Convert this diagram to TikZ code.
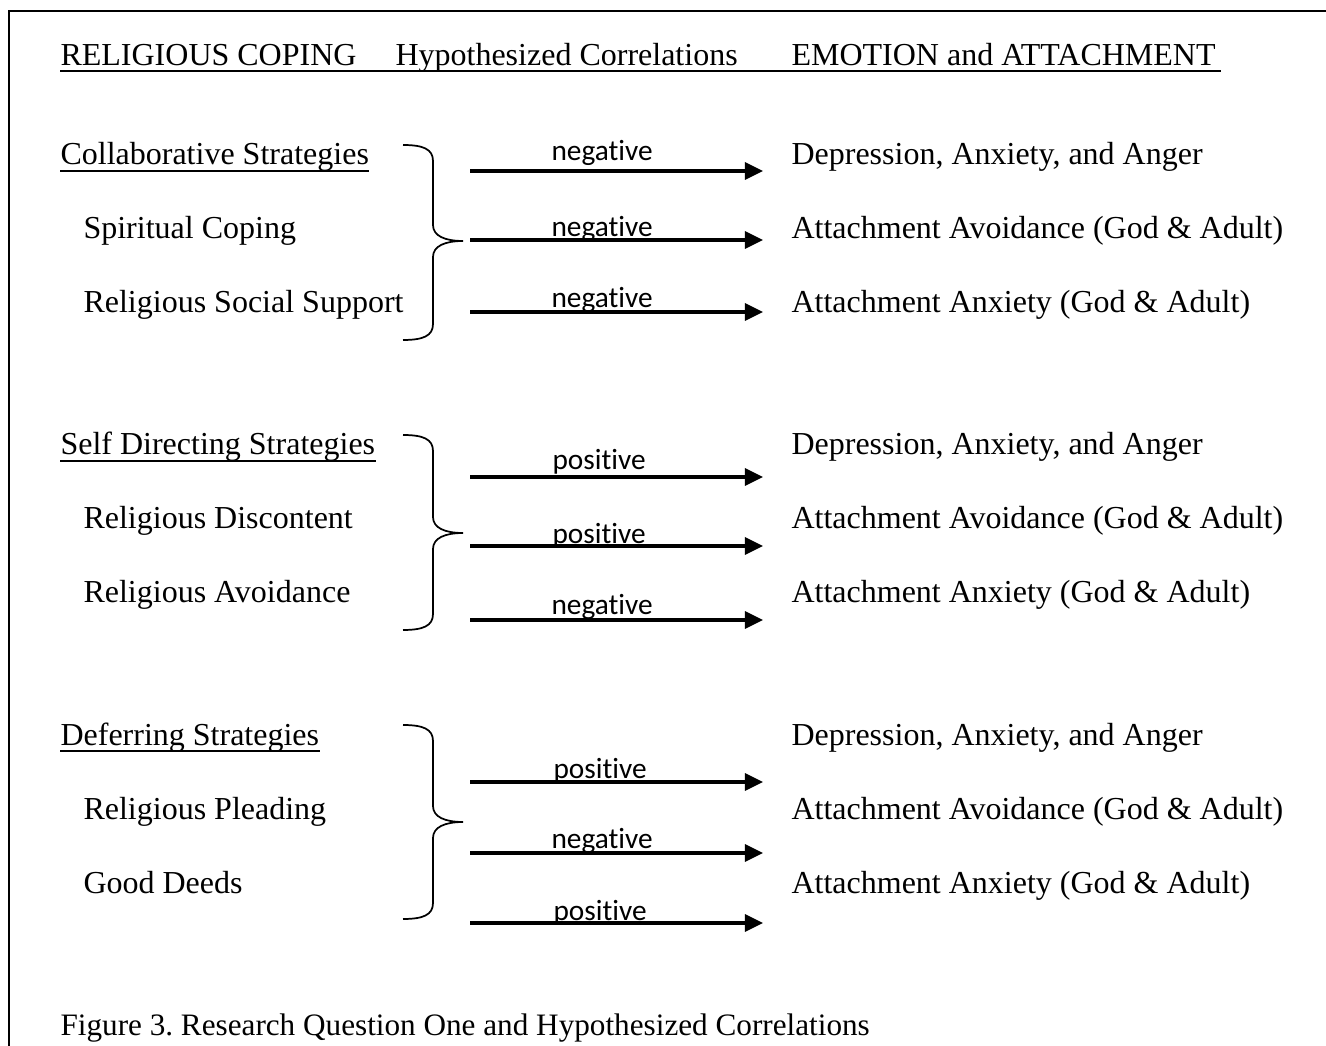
\documentclass[tikz,border=0pt]{standalone}
\usepackage{fontspec}
\setmainfont{Liberation Serif}
\newfontfamily\calibri[Ligatures={NoCommon}]{Carlito}
\usetikzlibrary{arrows.meta}
\frenchspacing
\tikzset{
  txt/.style={anchor=base west, inner sep=0pt, font=\fontsize{12}{14}\selectfont},
  captxt/.style={anchor=base west, inner sep=0pt, font=\fontsize{11.7}{14}\selectfont},
  lbl/.style={anchor=base west, inner sep=0pt, font=\calibri\fontsize{11}{13}\selectfont},
  arr/.style={line width=1.2pt, -{Triangle[length=6.8pt,width=6.4pt]}},
  ul/.style={line width=0.75pt},
  bracepath/.style={line width=0.65pt},
  framepath/.style={line width=1pt, line join=miter}
}
\newcommand\mybrace[3]{%
  \draw[bracepath] (403,#1) .. controls (423,#1) and (433,{#1+4}) .. (433,{#1+16})
    -- (433,{#2-16}) .. controls (433,{#2-5}) and (445,#2) .. (463,#2)
    .. controls (445,#2) and (433,{#2+5}) .. (433,{#2+16})
    -- (433,{#3-16}) .. controls (433,{#3-4}) and (423,#3) .. (403,#3);}
\begin{document}
\begin{tikzpicture}[x=0.375pt, y=-0.375pt]
\useasboundingbox (0,0) rectangle (1326,1046);
% frame
\draw[framepath] (9,1046) -- (9,11) -- (1326,11);
% title row
\node[txt] (t1) at (60,66) {RELIGIOUS COPING};
\node[txt] (t2) at (395,66) {Hypothesized Correlations};
\node[txt] (t3) at (791,66) {EMOTION and ATTACHMENT};
\draw[ul] ([yshift=-5*0.375pt]t1.base west) -- ([yshift=-5*0.375pt,xshift=5*0.375pt]t3.base east);

% ---------- section 1 ----------
\node[txt] (h1) at (60,165) {Collaborative Strategies};
\draw[ul] ([yshift=-6*0.375pt]h1.base west) -- ([yshift=-6*0.375pt]h1.base east);
\node[txt] (a1) at (83,239) {Spiritual Coping};
\node[txt] (b1) at (83,313) {Religious Social Support};
\node[txt] (r11) at (791,165) {Depression, Anxiety, and Anger};
\node[txt] (r12) at (791,239) {Attachment Avoidance (God \& Adult)};
\node[txt] (r13) at (791,313) {Attachment Anxiety (God \& Adult)};
\mybrace{145}{241}{340}
\coordinate (s11) at (470,171); \coordinate (e11) at (763,171);
\coordinate (s12) at (470,240); \coordinate (e12) at (763,240);
\coordinate (s13) at (470,312); \coordinate (e13) at (763,312);
\draw[arr] (s11) -- (e11);
\draw[arr] (s12) -- (e12);
\draw[arr] (s13) -- (e13);
\node[lbl] (l11) at (551,161) {negative};
\node[lbl] (l12) at (551,237) {negative};
\node[lbl] (l13) at (551,308) {negative};

% ---------- section 2 ----------
\node[txt] (h2) at (60,455) {Self Directing Strategies};
\draw[ul] ([yshift=-6*0.375pt]h2.base west) -- ([yshift=-6*0.375pt]h2.base east);
\node[txt] (a2) at (83,529) {Religious Discontent};
\node[txt] (b2) at (83,603) {Religious Avoidance};
\node[txt] (r21) at (791,455) {Depression, Anxiety, and Anger};
\node[txt] (r22) at (791,529) {Attachment Avoidance (God \& Adult)};
\node[txt] (r23) at (791,603) {Attachment Anxiety (God \& Adult)};
\mybrace{435}{533}{630}
\coordinate (s21) at (470,477); \coordinate (e21) at (763,477);
\coordinate (s22) at (470,546); \coordinate (e22) at (763,546);
\coordinate (s23) at (470,620); \coordinate (e23) at (763,620);
\draw[arr] (s21) -- (e21);
\draw[arr] (s22) -- (e22);
\draw[arr] (s23) -- (e23);
\node[lbl] (l21) at (552,470) {positive};
\node[lbl] (l22) at (552,544) {positive};
\node[lbl] (l23) at (551,615) {negative};

% ---------- section 3 ----------
\node[txt] (h3) at (60,745) {Deferring Strategies};
\draw[ul] ([yshift=-6*0.375pt]h3.base west) -- ([yshift=-6*0.375pt]h3.base east);
\node[txt] (a3) at (83,819) {Religious Pleading};
\node[txt] (b3) at (83,893) {Good Deeds};
\node[txt] (r31) at (791,745) {Depression, Anxiety, and Anger};
\node[txt] (r32) at (791,819) {Attachment Avoidance (God \& Adult)};
\node[txt] (r33) at (791,893) {Attachment Anxiety (God \& Adult)};
\mybrace{725}{822}{919}
\coordinate (s31) at (470,782); \coordinate (e31) at (763,782);
\coordinate (s32) at (470,853); \coordinate (e32) at (763,853);
\coordinate (s33) at (470,923); \coordinate (e33) at (763,923);
\draw[arr] (s31) -- (e31);
\draw[arr] (s32) -- (e32);
\draw[arr] (s33) -- (e33);
\node[lbl] (l31) at (553,778) {positive};
\node[lbl] (l32) at (551,848) {negative};
\node[lbl] (l33) at (553,920) {positive};

% caption
\node[captxt] (cap) at (60,1035) {Figure 3. Research Question One and Hypothesized Correlations};
\end{tikzpicture}
\end{document}
